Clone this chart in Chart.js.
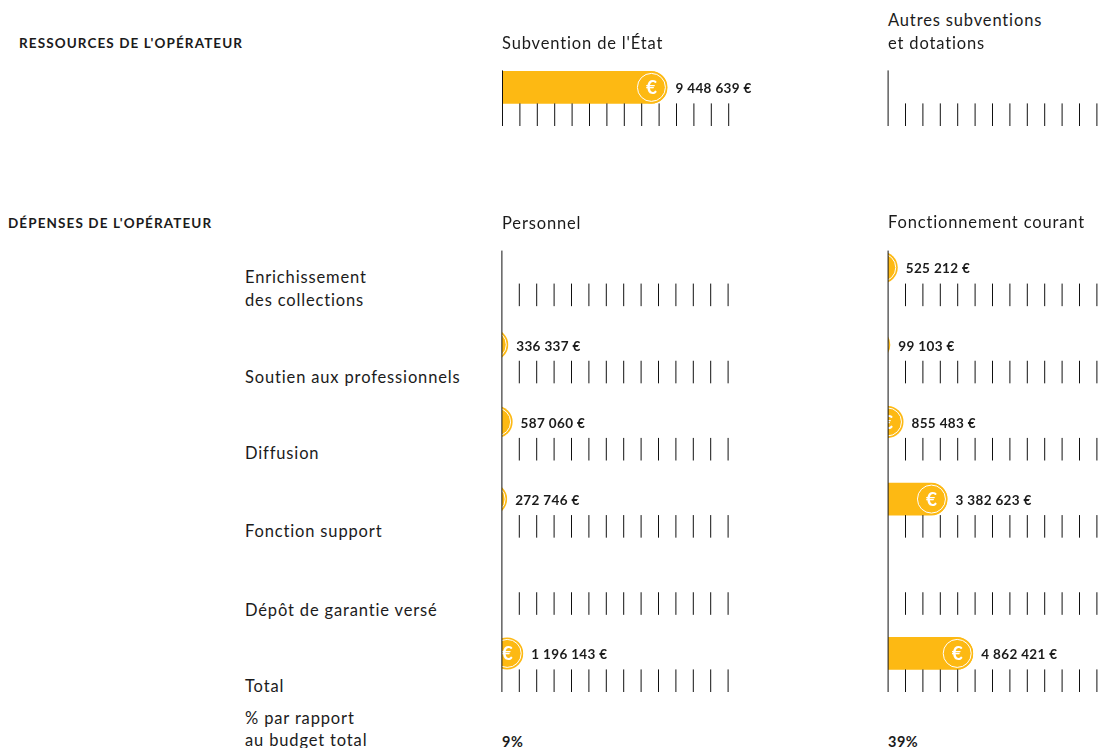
<!DOCTYPE html>
<html lang="fr">
<head>
<meta charset="utf-8">
<title>Budget de l'opérateur</title>
<script src="https://cdn.jsdelivr.net/npm/chart.js@4/dist/chart.umd.min.js"></script>
<style>
  html, body { margin: 0; padding: 0; background: #fff; }
  body { position: relative; width: 1109px; height: 748px; overflow: hidden; font-family: Lato, sans-serif; color: #1b1b1b; }
  canvas { position: absolute; }
  .t { position: absolute; white-space: nowrap; font-size: 16.5px; line-height: 23px; letter-spacing: .85px; }
  .h { font-size: 13.5px; font-weight: 700; letter-spacing: 1.1px; }
  .b { font-size: 14.5px; font-weight: 700; letter-spacing: .5px; }
</style>
</head>
<body>
<canvas id="subvention" width="290" height="78" style="left:492px;top:48px"></canvas>
<canvas id="autres" width="290" height="78" style="left:878px;top:48px"></canvas>
<canvas id="personnel" width="290" height="463" style="left:492px;top:229px"></canvas>
<canvas id="fonctionnement" width="290" height="463" style="left:878px;top:229px"></canvas>
<script>
const resourceCategories = ["Ressources"];
const subventionValues = [9448639];
const autresValues = [0];

const expenseCategories = ["Enrichissement des collections", "Soutien aux professionnels", "Diffusion", "Fonction support", "Dépôt de garantie versé", "Total"];
const personnelValues = [0, 336337, 587060, 272746, 0, 1196143];
const fonctionnementValues = [525212, 99103, 855483, 3382623, 0, 4862421];

const AXIS_MAX = 13000000;
const AXIS_STEP = 1000000;
const AXIS_WIDTH = 226.2;
const COIN_RADIUS = 16;
const YELLOW = '#fdb913';
const INK = '#1b1b1b';

// text around the charts: [text, x, centre y, class]
const texts = [
  ["RESSOURCES DE L'OPÉRATEUR", 19, 43, 'h'],
  ["DÉPENSES DE L'OPÉRATEUR", 8, 223, 'h'],
  ["Subvention de l'État", 502, 43, ''],
  ["Autres subventions", 888, 20, ''],
  ["et dotations", 888, 43, ''],
  ["Personnel", 502, 223, ''],
  ["Fonctionnement courant", 888, 222, ''],
  ["Enrichissement", 245, 277, ''],
  ["des collections", 245, 300, ''],
  ["Soutien aux professionnels", 245, 377, ''],
  ["Diffusion", 245, 453, ''],
  ["Fonction support", 245, 531, ''],
  ["Dépôt de garantie versé", 245, 610, ''],
  ["Total", 245, 686, ''],
  ["% par rapport", 245, 718, ''],
  ["au budget total", 245, 740, ''],
  ["9%", 502, 741, 'b'],
  ["39%", 888, 741, 'b']
];

texts.forEach(([text, x, y, cls]) => {
  const el = document.createElement('div');
  el.className = 't ' + cls;
  el.textContent = text;
  el.style.left = x + 'px';
  el.style.top = (y - 11.5) + 'px';
  document.body.appendChild(el);
});

function euros(v) {
  return String(v).replace(/\B(?=(\d{3})+$)/g, ' ') + ' €';
}

// ticks under each row, vertical axis, coin on the bar end and the value label
const rowDecor = {
  id: 'rowDecor',
  afterDatasetsDraw(chart) {
    const { ctx, chartArea } = chart;
    const x = chart.scales.x;
    const y = chart.scales.y;
    const meta = chart.getDatasetMeta(0);
    const values = chart.data.datasets[0].data;
    const band = (chartArea.bottom - chartArea.top) / values.length;

    meta.data.forEach((bar, i) => {
      if (!values[i]) return;
      const cx = bar.x - 15.5;
      ctx.save();
      ctx.beginPath();
      ctx.rect(x.left, bar.y - COIN_RADIUS - 1, bar.x - x.left + 1, COIN_RADIUS * 2 + 2);
      ctx.clip();
      ctx.fillStyle = YELLOW;
      ctx.beginPath();
      ctx.arc(cx, bar.y, COIN_RADIUS, 0, Math.PI * 2);
      ctx.fill();
      ctx.strokeStyle = '#fff';
      ctx.lineWidth = 1;
      ctx.beginPath();
      ctx.arc(cx, bar.y, 14, 0, Math.PI * 2);
      ctx.stroke();
      ctx.fillStyle = '#fff';
      ctx.font = '700 19px Lato';
      ctx.textAlign = 'center';
      ctx.textBaseline = 'middle';
      ctx.fillText('€', cx, bar.y + 0.5);
      ctx.restore();

      ctx.save();
      ctx.fillStyle = INK;
      ctx.font = '700 13.5px Lato';
      ctx.letterSpacing = '.35px';
      ctx.textAlign = 'left';
      ctx.textBaseline = 'middle';
      ctx.fillText(euros(values[i]), bar.x + 8.5, bar.y + 1.5);
      ctx.restore();
    });

    ctx.save();
    ctx.strokeStyle = '#111';
    ctx.lineWidth = 1;
    values.forEach((v, i) => {
      const centre = y.getPixelForValue(i);
      x.ticks.forEach((tick, t) => {
        if (t === 0) return;
        const px = x.getPixelForTick(t);
        ctx.beginPath();
        ctx.moveTo(px, centre + COIN_RADIUS);
        ctx.lineTo(px, centre + band / 2);
        ctx.stroke();
      });
    });
    ctx.beginPath();
    ctx.moveTo(x.left, y.getPixelForValue(0) - 17);
    ctx.lineTo(x.left, chartArea.bottom);
    ctx.stroke();
    ctx.restore();
  }
};

function drawPanel(id, categories, values, left, top) {
  const canvas = document.getElementById(id);
  return new Chart(canvas, {
    type: 'bar',
    data: {
      labels: categories,
      datasets: [{
        data: values,
        // bars shorter than the coin show only the clipped coin
        backgroundColor: c => (c.raw / AXIS_MAX * AXIS_WIDTH < COIN_RADIUS * 2 ? 'transparent' : YELLOW),
        barThickness: COIN_RADIUS * 2,
        borderSkipped: false,
        borderRadius: { topLeft: 0, bottomLeft: 0, topRight: COIN_RADIUS, bottomRight: COIN_RADIUS }
      }]
    },
    options: {
      indexAxis: 'y',
      responsive: false,
      animation: false,
      layout: { padding: { left, top, right: canvas.width - left - AXIS_WIDTH, bottom: 0 } },
      plugins: { legend: { display: false }, tooltip: { enabled: false } },
      scales: {
        x: { display: false, min: 0, max: AXIS_MAX, ticks: { stepSize: AXIS_STEP, autoSkip: false } },
        y: { display: false }
      }
    },
    plugins: [rowDecor]
  });
}

drawPanel('subvention', resourceCategories, subventionValues, 10.5, 0.8);
drawPanel('autres', resourceCategories, autresValues, 10.1, 0.8);
drawPanel('personnel', expenseCategories, personnelValues, 9.9, 0);
drawPanel('fonctionnement', expenseCategories, fonctionnementValues, 10.1, 0);
</script>
</body>
</html>
